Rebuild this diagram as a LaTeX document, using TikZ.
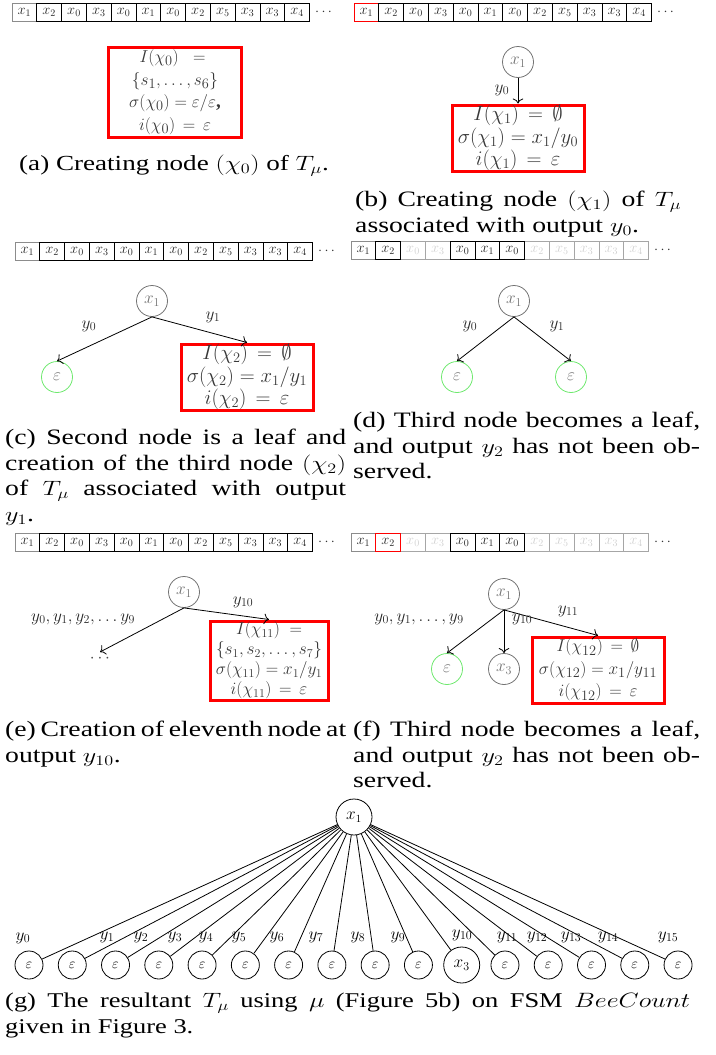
\documentclass[tikz,border=0pt]{standalone}
\usepackage[no-math]{fontspec}
\usepackage{graphicx}
\setmainfont{Liberation Serif}
\usetikzlibrary{arrows.meta}
\definecolor{lgreen}{RGB}{110,232,110}
\newcommand\tapeat[4]{%
  \foreach \i/\v/\s in {#4}{\node[\s] (#1\i) at ({#2+(\i-0.5)*24.8},#3) {$x_{\v}$};}%
  \node[tdots] (#1d) at ({#2+297.6+14},#3) {$\cdots$};}
\newcommand\jl[1]{\makebox[\linewidth][s]{#1}\\}
\newcommand\capbox[4]{\scalebox{#1}[1]{\parbox[t]{#2}{\fontsize{#3}{25.5}\selectfont\noindent #4}}}
\begin{document}
\begin{tikzpicture}[x=1pt,y=-1pt,
  every node/.style={inner sep=0pt},
  cell/.style={draw, minimum width=24.8pt, minimum height=18pt, inner sep=0pt, line width=0.8pt, font=\fontsize{14}{14}\selectfont, text=black!85},
  cg/.style={cell, draw=black!45},
  cb/.style={cell, draw=black},
  cf/.style={cell, draw=black!35, text=black!18},
  cr/.style={cell, draw=red},
  tdots/.style={font=\fontsize{14}{14}\selectfont, text=black!80},
  redbox/.style={draw=red, line width=3pt, inner sep=0pt, align=center, text=black!78, font=\fontsize{19.5}{22.5}\selectfont, minimum width=132pt, minimum height=66pt},
  gnode/.style={circle, draw=black!55, text=black!55, minimum size=31pt, line width=0.8pt, font=\fontsize{17.5}{17.5}\selectfont},
  enode/.style={gnode, draw=lgreen},
  arr/.style={-{To[scale=1.5]}, line width=0.8pt},
  lab/.style={font=\fontsize{18}{18}\selectfont, text=black!85},
  capstyle/.style={anchor=north west, inner sep=0pt},
  tnode/.style={circle, draw, line width=0.8pt, minimum size=28pt, font=\fontsize{15}{15}\selectfont},
  tedge/.style={line width=0.8pt},
]
\useasboundingbox (0,0) rectangle (715,1055);

% ---------- (a)
\tapeat{ta}{12}{12}{1/1/cg,2/2/cb,3/0/cb,4/3/cb,5/0/cb,6/1/cb,7/0/cb,8/2/cb,9/5/cb,10/3/cb,11/3/cb,12/4/cb}
\node[redbox, minimum width=133pt, minimum height=90pt, font=\fontsize{19}{22.5}\selectfont] (boxa) at (175,92)
  {$I(\chi_0)\;\;=\;$\\$\{s_1,\ldots,s_6\}$\\$\sigma(\chi_0)=\varepsilon/\varepsilon$\textbf{,}\\$i(\chi_0)\,=\,\varepsilon$};
\node[anchor=base] (capa) at (174,170) {\scalebox{1.26}[1]{\fontsize{21.5}{25.5}\selectfont (a) Creating node $(\chi_0)$ of $T_\mu$.}};

% ---------- (b)
\tapeat{tb}{354}{12}{1/1/cr,2/2/cb,3/0/cb,4/3/cb,5/0/cb,6/1/cb,7/0/cb,8/2/cb,9/5/cb,10/3/cb,11/3/cb,12/4/cb}
\node[gnode] (b1) at (518,62) {$x_1$};
\node[redbox] (boxb) at (518,138)
  {$I(\chi_1)\,=\,\emptyset$\\$\sigma(\chi_1)=x_1/y_0$\\$i(\chi_1)\,=\,\varepsilon$};
\draw[arr] (b1.south) -- (boxb.north);
\node[lab] (lb0) at (502,90) {$y_0$};
\node[capstyle] (capb) at (355,191)
  {\capbox{1.26}{258.7pt}{22}{\jl{(b) Creating node $(\chi_1)$ of $T_\mu$}associated with output $y_0$.}};

% ---------- (c)
\tapeat{tc}{15}{251}{1/1/cg,2/2/cb,3/0/cb,4/3/cb,5/0/cb,6/1/cb,7/0/cb,8/2/cb,9/5/cb,10/3/cb,11/3/cb,12/4/cb}
\node[gnode] (c1) at (152,301) {$x_1$};
\node[enode] (ce) at (57,377) {$\varepsilon$};
\node[redbox] (boxc) at (247,377)
  {$I(\chi_2)\,=\,\emptyset$\\$\sigma(\chi_2)=x_1/y_1$\\$i(\chi_2)\,=\,\varepsilon$};
\draw[arr] (c1.south) -- (ce.north);
\draw[arr] (c1.south) -- (boxc.north);
\node[lab] (lc0) at (89,326) {$y_0$};
\node[lab] (lc1) at (213,317) {$y_1$};
\node[capstyle] (capc) at (5,429)
  {\capbox{1.26}{270.6pt}{22}{\jl{(c) Second node is a leaf and}\jl{creation of the third node $(\chi_2)$}\jl{of $T_\mu$ associated with output}$y_1$.}};

% ---------- (d)
\tapeat{td}{351}{250.5}{3/0/cf,4/3/cf,8/2/cf,9/5/cf,10/3/cf,11/3/cf,12/4/cf,1/1/cg,2/2/cb,5/0/cb,6/1/cb,7/0/cb}
\node[gnode] (d1) at (514,301) {$x_1$};
\node[enode] (dl) at (457,377) {$\varepsilon$};
\node[enode] (dr) at (571,377) {$\varepsilon$};
\draw[arr] (d1.south) -- (dl.north);
\draw[arr] (d1.south) -- (dr.north);
\node[lab] (ld0) at (470,326) {$y_0$};
\node[lab] (ld1) at (557,326) {$y_1$};
\node[capstyle] (capd) at (353,412)
  {\capbox{1.26}{275.4pt}{22}{\jl{(d) Third node becomes a leaf,}\jl{and output $y_2$ has not been ob-}served.}};

% ---------- (e)
\tapeat{te}{15}{542.5}{1/1/cg,2/2/cb,3/0/cb,4/3/cb,5/0/cb,6/1/cb,7/0/cb,8/2/cb,9/5/cb,10/3/cb,11/3/cb,12/4/cb}
\node[gnode] (e1) at (184,592) {$x_1$};
\node[anchor=north, inner sep=3pt, font=\fontsize{16}{16}\selectfont, text=black!70] (edots) at (100,652) {$\cdots$};
\node[redbox, minimum width=118pt, minimum height=79pt, font=\fontsize{18}{20}\selectfont] (boxe) at (269,660.5)
  {$I(\chi_{11})\;=$\\$\{s_1,s_2,\ldots,s_7\}$\\$\sigma(\chi_{11})=x_1/y_1$\\$i(\chi_{11})\,=\,\varepsilon$};
\draw[arr] (e1.south) -- (edots.north);
\draw[arr] (e1.south) -- (boxe.north);
\node[lab, font=\fontsize{17}{17}\selectfont] (le0) at (83,619) {$y_0,y_1,y_2,\ldots y_9$};
\node[lab] (le1) at (243,602) {$y_{10}$};
\node[capstyle] (cape) at (5,721)
  {\capbox{1.26}{270.6pt}{22}{\jl{(e) Creation of eleventh node at}output $y_{10}$.}};

% ---------- (f)
\tapeat{tf}{351}{542.5}{3/0/cf,4/3/cf,8/2/cf,9/5/cf,10/3/cf,11/3/cf,12/4/cf,1/1/cg,5/0/cb,6/1/cb,7/0/cb,2/2/cr}
\node[gnode] (f1) at (504,594) {$x_1$};
\node[enode] (fe) at (447,669) {$\varepsilon$};
\node[gnode] (f3) at (504,669) {$x_3$};
\node[redbox, font=\fontsize{19}{22.5}\selectfont] (boxf) at (598,670)
  {$I(\chi_{12})\,=\,\emptyset$\\$\sigma(\chi_{12})=x_1/y_{11}$\\$i(\chi_{12})\,=\,\varepsilon$};
\draw[arr] (f1.south) -- (fe.north);
\draw[arr] (f1.south) -- (f3.north);
\draw[arr] (f1.south) -- (boxf.north);
\node[lab] (lf0) at (419,619) {$y_0,y_1,\ldots,y_9$};
\node[lab] (lf1) at (522,619) {$y_{10}$};
\node[lab] (lf2) at (568,611) {$y_{11}$};
\node[capstyle] (capf) at (353,721)
  {\capbox{1.26}{275.4pt}{22}{\jl{(f) Third node becomes a leaf,}\jl{and output $y_2$ has not been ob-}served.}};

% ---------- (g)
\node[tnode, minimum size=36pt, font=\fontsize{16}{16}\selectfont] (groot) at (354,817) {$x_1$};
\foreach \k in {0,1,2,3,4,5,6,7,8,9,11,12,13,14,15}
  {\node[tnode] (g\k) at ({29+\k*43.27},965) {$\varepsilon$};}
\node[tnode, minimum size=36pt, font=\fontsize{17}{17}\selectfont] (g10) at ({29+10*43.27},965) {$x_3$};
\foreach \k in {0,...,15} {\draw[tedge] (groot) -- (g\k);}
\foreach \k/\lx/\ly in {0/23/938,1/107/937,2/141/937,3/175/937,4/206/937,5/239/937,6/277/937,7/316/937,8/358/937,9/398/937,10/462/935,11/507/937,12/537/937,13/571/937,14/608/937,15/668/937}
  {\node[lab, text=black] (gl\k) at (\lx,\ly) {$y_{\k}$};}
\node[capstyle] (capg) at (5,993)
  {\capbox{1.26}{543.7pt}{21}{\jl{(g) The resultant $T_\mu$ using $\mu$ (Figure 5b) on FSM $BeeCount$}given in Figure 3.}};
\end{tikzpicture}
\end{document}
